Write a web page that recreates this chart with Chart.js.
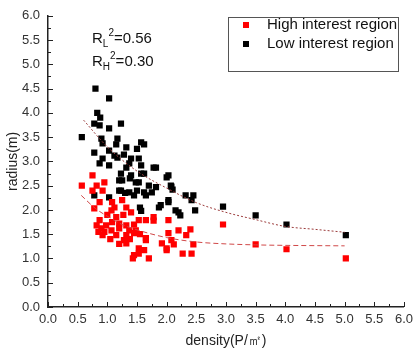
<!DOCTYPE html>
<html>
<head>
<meta charset="utf-8">
<script src="https://cdn.jsdelivr.net/npm/chart.js@4"></script>
<style>
  html, body { margin: 0; padding: 0; background: #fff; }
  #wrap { width: 418px; height: 352px; position: relative; }
</style>
</head>
<body>
<div id="wrap"><canvas id="radiusChart"></canvas></div>
<script>
// Scatter values: [density, radius]
const highPoints = [
  [0.57, 2.5], [0.75, 2.71], [0.82, 2.5], [0.95, 2.57], [0.75, 2.4], [0.92, 2.4],
  [1.08, 2.16], [1.25, 2.2], [0.78, 2.03], [0.87, 2.16], [1.07, 1.99], [1.32, 2.05],
  [1.4, 1.95], [1.78, 1.85], [1.78, 1.78], [2.03, 1.79], [1.53, 1.79], [1.65, 1.79],
  [0.87, 1.79], [0.82, 1.68], [0.98, 1.68], [1.08, 1.75], [1.2, 1.72], [1.32, 1.68],
  [0.9, 1.62], [1.07, 1.58], [1.2, 1.62], [1.37, 1.58], [1.48, 1.58], [0.92, 1.48],
  [1.15, 1.48], [1.32, 1.48], [1.45, 1.52], [1.65, 1.42], [1.28, 1.38], [1.32, 1.31],
  [2.03, 1.52], [2.2, 1.58], [2.33, 1.48], [2.4, 1.6], [1.92, 1.31], [2.12, 1.29],
  [2.45, 1.29], [2.08, 1.38], [2.0, 1.21], [1.53, 1.21], [1.62, 1.17], [1.45, 1.07],
  [1.43, 1.0], [1.53, 1.1], [1.7, 1.0], [2.0, 1.17], [2.27, 1.1], [2.42, 1.1],
  [1.65, 1.38], [1.0, 1.9], [1.15, 1.85], [0.95, 1.55], [1.05, 1.4], [1.2, 1.3],
  [1.38, 1.4], [1.55, 1.5], [0.85, 1.55], [1.12, 2.05], [1.27, 1.9], [1.45, 1.7],
  [2.95, 1.7], [3.5, 1.29], [4.02, 1.19], [5.02, 1.0]
];
const lowPoints = [
  [0.57, 3.5], [0.8, 4.5], [1.03, 4.3], [0.83, 4.0], [0.88, 3.9], [0.78, 3.78],
  [0.87, 3.74], [1.03, 3.68], [1.23, 3.78], [0.9, 3.47], [1.17, 3.47], [0.92, 3.37],
  [1.32, 3.29], [1.57, 3.39], [1.5, 3.26], [0.78, 3.18], [1.03, 3.22], [0.92, 3.06],
  [1.17, 3.08], [1.4, 3.06], [1.53, 3.06], [0.87, 2.96], [1.03, 2.92], [1.32, 2.87],
  [1.82, 2.87], [1.23, 2.75], [1.4, 2.71], [1.57, 2.75], [2.03, 2.71], [1.2, 2.61],
  [1.48, 2.57], [1.7, 2.5], [2.08, 2.48], [1.23, 2.4], [1.37, 2.36], [1.5, 2.4],
  [1.62, 2.36], [1.75, 2.36], [2.32, 2.3], [2.45, 2.3], [1.15, 3.35], [1.62, 3.35],
  [1.12, 3.12], [1.28, 3.14], [1.37, 2.96], [1.57, 2.92], [1.62, 2.75], [1.25, 2.61],
  [1.38, 2.65], [1.53, 2.57], [2.0, 2.67], [1.82, 2.47], [2.1, 2.42], [1.2, 2.4],
  [1.3, 2.35], [1.45, 2.3], [1.65, 2.3], [1.03, 2.26], [0.78, 2.3], [2.03, 2.16],
  [1.87, 2.05], [1.55, 2.05], [1.57, 1.98], [2.15, 1.99], [2.23, 1.89], [2.48, 1.99],
  [2.42, 2.2], [2.2, 1.95], [1.9, 2.1], [2.03, 2.2], [1.78, 2.87], [2.07, 2.5],
  [2.95, 2.07], [3.5, 1.89], [4.02, 1.7], [5.02, 1.48]
];

// Fitted curves
const fitLowX = [0.6, 1.0, 1.5, 2.0, 2.5, 3.0, 3.5, 4.0, 4.5, 5.0];
const fitLowY = [3.85, 3.3, 2.8, 2.45, 2.15, 1.95, 1.8, 1.66, 1.6, 1.54];
const fitHighX = [0.56, 0.8, 1.0, 1.25, 1.5, 2.0, 2.5, 3.0, 3.5, 4.0, 5.0];
const fitHighY = [2.3, 2.03, 1.87, 1.7, 1.59, 1.43, 1.34, 1.3, 1.28, 1.27, 1.26];

const seriesNames = ["High interest region", "Low interest region"];
const seriesColors = ["#ff0000", "#000000"];
const rSquared = [["L", "0.56"], ["H", "0.30"]];

const toXY = (arr) => arr.map((p) => ({ x: p[0], y: p[1] }));
const zipXY = (xs, ys) => xs.map((x, i) => ({ x: x, y: ys[i] }));

const FONT = "'Liberation Sans', Arial, sans-serif";

// inward ticks, legend box and R² text
const extrasPlugin = {
  id: "extras",
  afterDraw(chart) {
    const ctx = chart.ctx;
    const xs = chart.scales.x;
    const ys = chart.scales.y;
    const area = chart.chartArea;
    ctx.save();
    ctx.strokeStyle = "#222";
    ctx.lineWidth = 1;
    for (let v = 0; v <= 6.001; v += 0.25) {
      const major = Math.abs(v * 2 - Math.round(v * 2)) < 0.01;
      const len = major ? 5 : 3;
      const px = Math.round(xs.getPixelForValue(v)) + 0.5;
      ctx.beginPath();
      ctx.moveTo(px, area.bottom);
      ctx.lineTo(px, area.bottom - len);
      ctx.stroke();
      const py = Math.round(ys.getPixelForValue(v)) + 0.5;
      ctx.beginPath();
      ctx.moveTo(area.left, py);
      ctx.lineTo(area.left + len, py);
      ctx.stroke();
    }

    // legend
    ctx.strokeStyle = "#555";
    ctx.strokeRect(228.5, 17.5, 170, 54);
    ctx.font = "15px " + FONT;
    ctx.textBaseline = "middle";
    seriesNames.forEach((name, i) => {
      const y = 25 + i * 19;
      ctx.fillStyle = seriesColors[i];
      ctx.fillRect(243, y - 3, 6, 6);
      ctx.fillStyle = "#111";
      ctx.fillText(name, 267, y);
    });

    // R² annotations
    ctx.textBaseline = "alphabetic";
    rSquared.forEach((r, i) => {
      const base = 43 + i * 23;
      let x = 92;
      ctx.font = "15px " + FONT;
      ctx.fillText("R", x, base);
      x += ctx.measureText("R").width;
      ctx.font = "10px " + FONT;
      ctx.fillText(r[0], x, base + 4);
      x += ctx.measureText(r[0]).width;
      ctx.fillText("2", x, base - 7);
      x += ctx.measureText("2").width;
      ctx.font = "15px " + FONT;
      ctx.fillText("=" + r[1], x, base);
    });
    ctx.restore();
  },
};

const ctx = document.getElementById("radiusChart").getContext("2d");
const radiusChart = new Chart(ctx, {
  type: "scatter",
  data: {
    datasets: [
      {
        label: seriesNames[0],
        data: toXY(highPoints),
        backgroundColor: seriesColors[0],
        pointStyle: "rect",
        pointRadius: 4.4,
        borderWidth: 0,
        order: 2,
      },
      {
        label: seriesNames[1],
        data: toXY(lowPoints),
        backgroundColor: seriesColors[1],
        pointStyle: "rect",
        pointRadius: 4.4,
        borderWidth: 0,
        order: 3,
      },
      {
        label: "fit low",
        data: zipXY(fitLowX, fitLowY),
        showLine: true,
        borderColor: "#9b3b3b",
        borderWidth: 1,
        borderDash: [2, 2],
        pointRadius: 0,
        cubicInterpolationMode: "monotone",
        order: 1,
      },
      {
        label: "fit high",
        data: zipXY(fitHighX, fitHighY),
        showLine: true,
        borderColor: "#d04848",
        borderWidth: 1,
        borderDash: [5, 3],
        pointRadius: 0,
        cubicInterpolationMode: "monotone",
        order: 1,
      },
    ],
  },
  options: {
    responsive: true,
    maintainAspectRatio: false,
    animation: false,
    layout: { padding: { top: 15, right: 10, left: 0, bottom: 0 } },
    scales: {
      x: {
        type: "linear",
        min: 0,
        max: 6,
        grid: { display: false, drawTicks: false },
        border: { display: true, color: "#222", width: 1.5 },
        ticks: {
          stepSize: 0.5,
          padding: 5,
          color: "#333",
          font: { family: FONT, size: 13 },
          maxRotation: 0,
          callback: (v) => Number(v).toFixed(1),
        },
        title: {
          display: true,
          text: "density(P/㎡)",
          color: "#222",
          font: { family: FONT, size: 14 },
          padding: { top: 2, bottom: 2 },
        },
        afterFit: (scale) => { scale.height = 45; },
      },
      y: {
        type: "linear",
        min: 0,
        max: 6,
        grid: { display: false, drawTicks: false },
        border: { display: true, color: "#222", width: 1.5 },
        ticks: {
          stepSize: 0.5,
          padding: 8,
          color: "#333",
          font: { family: FONT, size: 13 },
          callback: (v) => Number(v).toFixed(1),
        },
        title: {
          display: true,
          text: "radius(m)",
          color: "#222",
          font: { family: FONT, size: 14 },
          padding: { top: 5, bottom: 2 },
        },
        afterFit: (scale) => { scale.width = 48; },
      },
    },
    plugins: {
      legend: { display: false },
      tooltip: { enabled: false },
    },
  },
  plugins: [extrasPlugin],
});
</script>
</body>
</html>
